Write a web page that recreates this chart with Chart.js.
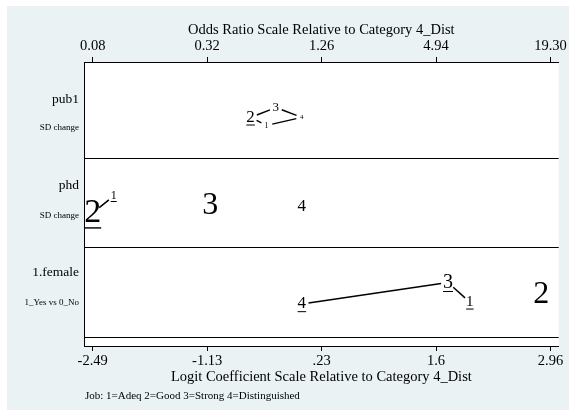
<!DOCTYPE html>
<html>
<head>
<meta charset="utf-8">
<script src="https://cdn.jsdelivr.net/npm/chart.js@4.4.1/dist/chart.umd.min.js"></script>
<style>
  html, body { margin: 0; padding: 0; background: #fff; }
  canvas { display: block; }
</style>
</head>
<body>
<canvas id="chart" width="569" height="413"></canvas>
<script>
// Rows of the plot and the small note under each name
const rows = ["pub1", "phd", "1.female"];
const rowNotes = ["SD change", "SD change", "1_Yes vs 0_No"];
const categories = ["1", "2", "3", "4"];

// logit coefficients relative to category 4, in the order of categories
const logitPub1 = [-0.42, -0.61, -0.31, 0];
const logitPhd = [-2.24, -2.49, -1.09, 0];
const logitFemale = [2.0, 2.85, 1.74, 0];

// underlined letters
const underPub1 = [false, true, false, false];
const underPhd = [true, true, false, false];
const underFemale = [true, false, true, true];

// pairs joined by a line
const linksPub1 = [["2", "3"], ["2", "1"], ["3", "4"], ["1", "4"]];
const linksPhd = [["2", "1"]];
const linksFemale = [["4", "3"], ["3", "1"]];

const logitTicks = [-2.49, -1.1275, 0.235, 1.5975, 2.96];
const logitTickLabels = ["-2.49", "-1.13", ".23", "1.6", "2.96"];
const oddsTickLabels = ["0.08", "0.32", "1.26", "4.94", "19.30"];
const noteText = "Job: 1=Adeq 2=Good 3=Strong 4=Distinguished";

// styling only: letter font sizes and vertical nudges inside each row
const letterSizes = [[8, 17, 13, 7], [12, 34, 32, 17], [15, 32, 20, 17]];
const letterNudge = [[-0.09, 0, 0.11, 0], [0.12, -0.07, 0.01, 0], [-0.07, 0.02, 0.15, -0.09]];
const rowBase = [2.46, 1.46, 0.46];
const nameNudge = [0.2, 0.235, 0.26];
const noteNudge = [-0.11, -0.1, -0.07];

const SERIF = "'Liberation Serif', 'Times New Roman', serif";
const rowLogits = [logitPub1, logitPhd, logitFemale];
const rowUnder = [underPub1, underPhd, underFemale];
const rowLinks = [linksPub1, linksPhd, linksFemale];

const datasets = rows.map((name, r) => ({
  label: name,
  data: categories.map((c, i) => ({ x: rowLogits[r][i], y: rowBase[r] + letterNudge[r][i] })),
  pointRadius: 0,
  showLine: false
}));

const letterPlugin = {
  id: "letters",
  beforeDraw(chart) {
    const { ctx, chartArea: a } = chart;
    ctx.save();
    ctx.fillStyle = "#ffffff";
    ctx.fillRect(0, 0, chart.width, chart.height);
    ctx.fillStyle = "#eaf2f3";
    ctx.fillRect(7, 6, chart.width - 7, chart.height - 9);
    ctx.fillStyle = "#ffffff";
    ctx.fillRect(a.left, a.top, a.right - a.left, a.bottom - a.top);
    ctx.restore();
  },
  afterDatasetsDraw(chart) {
    const { ctx, chartArea: a } = chart;
    const yScale = chart.scales.y;
    ctx.save();

    // connecting lines
    rows.forEach((name, r) => {
      const pts = chart.getDatasetMeta(r).data;
      rowLinks[r].forEach(([from, to]) => {
        const i = categories.indexOf(from), j = categories.indexOf(to);
        const p = pts[i], q = pts[j];
        const dx = q.x - p.x, dy = q.y - p.y;
        const len = Math.hypot(dx, dy);
        const g1 = 5 + 0.1 * letterSizes[r][i], g2 = 5 + 0.1 * letterSizes[r][j];
        if (len <= g1 + g2) return;
        const ux = dx / len, uy = dy / len;
        ctx.beginPath();
        ctx.moveTo(p.x + ux * g1, p.y + uy * g1);
        ctx.lineTo(q.x - ux * g2, q.y - uy * g2);
        ctx.strokeStyle = "#000";
        ctx.lineWidth = 1.5;
        ctx.stroke();
      });
    });

    // letters
    ctx.fillStyle = "#000";
    ctx.textAlign = "center";
    ctx.textBaseline = "middle";
    rows.forEach((name, r) => {
      const pts = chart.getDatasetMeta(r).data;
      categories.forEach((c, i) => {
        const size = letterSizes[r][i];
        const p = pts[i];
        ctx.font = `${size}px ${SERIF}`;
        ctx.fillText(c, p.x, p.y);
        if (rowUnder[r][i]) {
          const w = ctx.measureText(c).width;
          ctx.fillRect(p.x - w / 2, p.y + size * 0.42, w, Math.max(1, size / 24));
        }
      });
    });

    // row names on the left
    ctx.textAlign = "right";
    rows.forEach((name, r) => {
      ctx.font = `13.5px ${SERIF}`;
      ctx.fillText(name, a.left - 5, yScale.getPixelForValue(rowBase[r] + nameNudge[r]));
      ctx.font = `9px ${SERIF}`;
      ctx.fillText(rowNotes[r], a.left - 5, yScale.getPixelForValue(rowBase[r] + noteNudge[r]));
    });

    // note under the chart
    ctx.textAlign = "left";
    ctx.font = `11px ${SERIF}`;
    ctx.fillText(noteText, 85, 396);
    ctx.restore();
  }
};

const xMin = -2.5935, xMax = 3.0575;
const tickFont = { family: SERIF, size: 14.5 };
const titleFont = { family: SERIF, size: 14.5 };

new Chart(document.getElementById("chart"), {
  type: "scatter",
  data: { datasets },
  options: {
    responsive: false,
    animation: false,
    devicePixelRatio: 1,
    layout: { padding: { left: 0, right: 10, top: 0, bottom: 0 } },
    plugins: { legend: { display: false }, tooltip: { enabled: false } },
    scales: {
      x: {
        type: "linear", position: "bottom", min: xMin, max: xMax,
        afterBuildTicks: s => { s.ticks = logitTicks.map(v => ({ value: v })); },
        afterFit: s => { s.height = 67; },
        ticks: { callback: (v, i) => logitTickLabels[i], color: "#000", font: tickFont, padding: 1, maxRotation: 0, autoSkip: false },
        grid: { drawOnChartArea: false, drawTicks: true, tickLength: 5, tickColor: "#000", tickWidth: 1 },
        border: { display: true, color: "#000", width: 1 },
        title: { display: true, text: "Logit Coefficient Scale Relative to Category 4_Dist", color: "#000", font: titleFont, padding: { top: 0, bottom: 27 } }
      },
      x2: {
        type: "linear", position: "top", min: xMin, max: xMax,
        afterBuildTicks: s => { s.ticks = logitTicks.map(v => ({ value: v })); },
        afterFit: s => { s.height = 62; },
        ticks: { callback: (v, i) => oddsTickLabels[i], color: "#000", font: tickFont, padding: 2, maxRotation: 0, autoSkip: false },
        grid: { drawOnChartArea: false, drawTicks: true, tickLength: 5, tickColor: "#000", tickWidth: 1 },
        border: { display: true, color: "#000", width: 1 },
        title: { display: true, text: "Odds Ratio Scale Relative to Category 4_Dist", color: "#000", font: titleFont, padding: { top: 21, bottom: 0 } }
      },
      y: {
        type: "linear", min: -0.1, max: 3.08,
        afterBuildTicks: s => { s.ticks = [0, 1, 2].map(v => ({ value: v })); },
        afterFit: s => { s.width = 84; },
        ticks: { display: false },
        grid: { color: "#000", lineWidth: 1, drawTicks: false },
        border: { display: true, color: "#000", width: 1 }
      }
    }
  },
  plugins: [letterPlugin]
});
</script>
</body>
</html>
